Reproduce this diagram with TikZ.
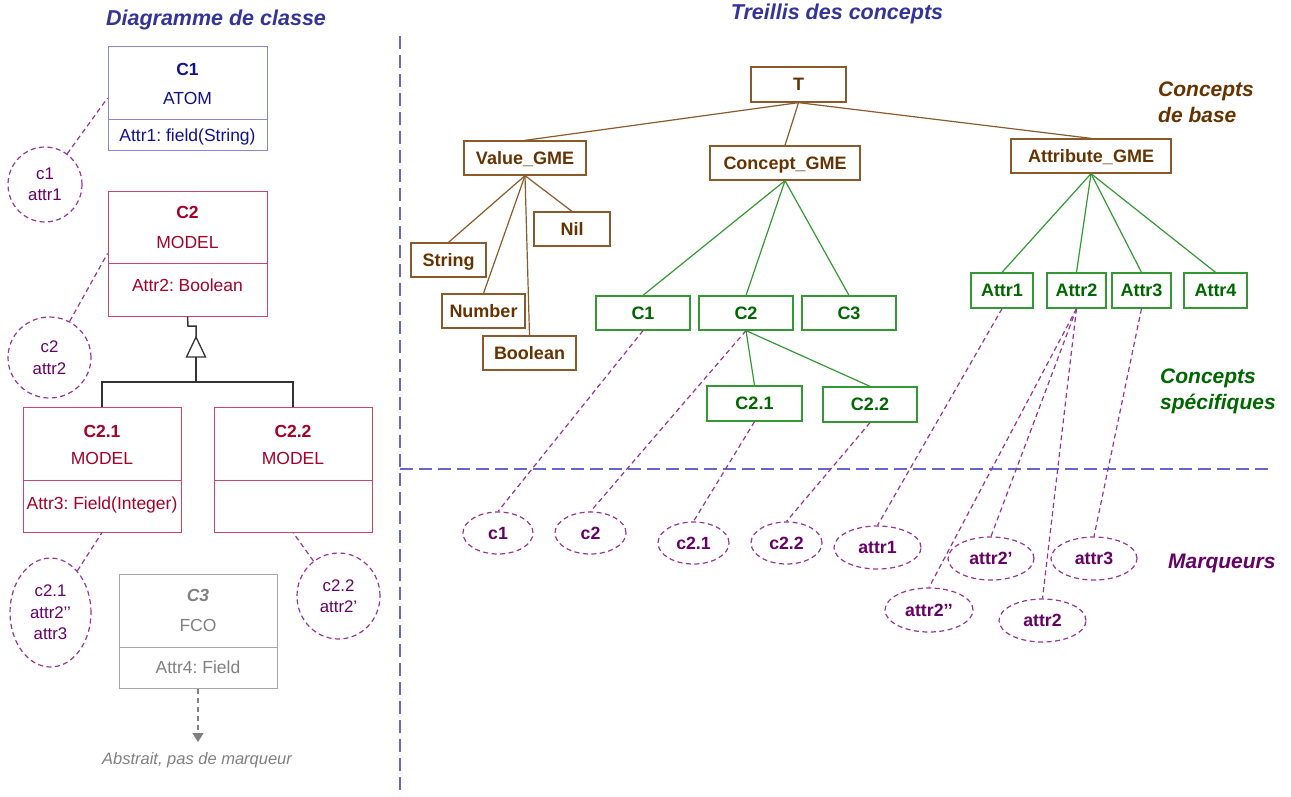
\documentclass[tikz,border=0pt]{standalone}
\usepackage{fontspec}
\setmainfont{Liberation Sans}
\usetikzlibrary{arrows.meta,calc,shapes.geometric}
\definecolor{hblue}{HTML}{333399}
\definecolor{sepblue}{HTML}{6666CC}
\definecolor{brtext}{HTML}{663300}
\definecolor{brline}{HTML}{8B5A2B}
\definecolor{grtext}{HTML}{006600}
\definecolor{grline}{HTML}{339933}
\definecolor{pur}{HTML}{660066}
\definecolor{purline}{HTML}{993399}
\definecolor{navytext}{HTML}{101090}
\definecolor{navyline}{HTML}{8888CC}
\definecolor{crimtext}{HTML}{A50028}
\definecolor{crimline}{HTML}{CC4466}
\definecolor{gtext}{HTML}{808080}
\definecolor{gline}{HTML}{A6A6A6}
\frenchspacing
\tikzset{
  heading/.style={font=\bfseries\itshape\fontsize{21.5}{24}\selectfont, inner sep=0pt},
  sidelbl/.style={font=\bfseries\itshape\fontsize{21}{26}\selectfont, inner sep=0pt, align=left, anchor=west},
  sepline/.style={draw=sepblue, line width=1.4pt, dash pattern=on 13pt off 6pt},
  lat/.style={draw, line width=1.3pt, font=\bfseries\fontsize{18}{20}\selectfont, minimum height=34pt, inner sep=0pt, text height=12.9pt, text depth=0pt},
  basebox/.style={lat, draw=brline, text=brtext},
  specbox/.style={lat, draw=grline, text=grtext},
  baseedge/.style={draw=brline, line width=1.2pt},
  specedge/.style={draw=grline, line width=1.2pt},
  markell/.style={ellipse, draw=purline, line width=1.2pt, dash pattern=on 5pt off 3.5pt, text=pur, inner sep=0pt, text height=12.6pt, text depth=0pt, font=\bfseries\fontsize{17.7}{20}\selectfont},
  lmark/.style={ellipse, draw=purline, line width=1.2pt, dash pattern=on 5pt off 3.5pt, text=pur, inner sep=0pt, align=center, font=\fontsize{16.8}{21.5}\selectfont},
  markedge/.style={draw=purline, line width=1.2pt, dash pattern=on 5pt off 3.5pt},
  classbox/.style={draw, line width=1pt, inner sep=0pt},
  ctext/.style={inner sep=0pt, font=\fontsize{17.5}{20}\selectfont, text height=12.5pt, text depth=0pt},
  ctitle/.style={ctext, font=\bfseries\fontsize{17.5}{20}\selectfont},
  gen/.style={draw=black!80, line width=1.5pt},
}
\begin{document}
\begin{tikzpicture}[x=1pt,y=-1pt]
\path[use as bounding box] (0,0) rectangle (1291,796);

% headings and separators
\node[heading, text=hblue] (hcd) at (216,20) {Diagramme de classe};
\node[heading, text=hblue] (htr) at (837,14) {Treillis des concepts};
\coordinate (vtop) at (400,36);
\coordinate (vbot) at (400,796);
\coordinate (hleft) at (400,469);
\coordinate (hright) at (1268,469);
\draw[sepline] (vtop) -- (vbot);
\draw[sepline] (hleft) -- (hright);

% ---------- class diagram ----------
% C1
\node[classbox, draw=navyline, minimum width=159pt, minimum height=104pt] (C1) at (187.5,98) {};
\draw[navyline, line width=1pt] (C1.west |- 0,119) -- (C1.east |- 0,119);
\node[ctitle, text=navytext] (C1n) at (187.5,69) {C1};
\node[ctext, text=navytext] (C1t) at (187.5,98) {ATOM};
\node[ctext, text=navytext] (C1a) at (187.5,135) {Attr1: field(String)};
% C2
\node[classbox, draw=crimline, minimum width=159pt, minimum height=125pt] (C2) at (187.5,253.5) {};
\draw[crimline, line width=1pt] (C2.west |- 0,263) -- (C2.east |- 0,263);
\node[ctitle, text=crimtext] (C2n) at (187.5,212) {C2};
\node[ctext, text=crimtext] (C2t) at (187.5,242) {MODEL};
\node[ctext, text=crimtext] (C2a) at (187.5,285) {Attr2: Boolean};
% C2.1
\node[classbox, draw=crimline, minimum width=158pt, minimum height=125pt] (C21) at (102,469.5) {};
\draw[crimline, line width=1pt] (C21.west |- 0,480) -- (C21.east |- 0,480);
\node[ctitle, text=crimtext] (C21n) at (102,431) {C2.1};
\node[ctext, text=crimtext] (C21t) at (102,458) {MODEL};
\node[ctext, text=crimtext] (C21a) at (102,503) {Attr3: Field(Integer)};
% C2.2
\node[classbox, draw=crimline, minimum width=158pt, minimum height=125pt] (C22) at (293,469.5) {};
\draw[crimline, line width=1pt] (C22.west |- 0,480) -- (C22.east |- 0,480);
\node[ctitle, text=crimtext] (C22n) at (293,431) {C2.2};
\node[ctext, text=crimtext] (C22t) at (293,458) {MODEL};
% C3
\node[classbox, draw=gline, minimum width=158pt, minimum height=114pt] (C3) at (198,631) {};
\draw[gline, line width=1pt] (C3.west |- 0,647) -- (C3.east |- 0,647);
\node[ctitle, text=gtext, font=\bfseries\itshape\fontsize{17.5}{20}\selectfont] (C3n) at (198,595) {C3};
\node[ctext, text=gtext] (C3t) at (198,625) {FCO};
\node[ctext, text=gtext] (C3a) at (198,667) {Attr4: Field};
\coordinate (absend) at (198,742);
\draw[draw=gtext, line width=1.2pt, dash pattern=on 5pt off 4pt, -{Triangle[width=11pt,length=9pt]}] (C3.south) -- (absend);
\node[inner sep=0pt, text=gtext, font=\itshape\fontsize{16.5}{20}\selectfont] (abs) at (197,760) {Abstrait, pas de marqueur};

% generalization
\coordinate (g1) at (188,326);
\coordinate (g2) at (196,326);
\coordinate (g3) at (196,337);
\coordinate (g4) at (196,357);
\coordinate (g5) at (196,382);
\draw[gen] (C2.south) -- (g1) -- (g2) -- (g3);
\draw[gen, line width=1.3pt, fill=white] (g3) -- (186.5,357) -- (205.5,357) -- cycle;
\draw[gen] (g4) -- (g5);
\draw[gen] (C21.north) |- (g5) -| (C22.north);

% left markers
\node[lmark, minimum width=74pt, minimum height=75pt] (lm1) at (45,184.5) {c1\\attr1};
\node[lmark, minimum width=83pt, minimum height=81pt] (lm2) at (49.5,357.5) {c2\\attr2};
\node[lmark, minimum width=81pt, minimum height=109pt] (lm21) at (50.5,612.5) {c2.1\\attr2’’\\attr3};
\node[lmark, minimum width=83pt, minimum height=86pt] (lm22) at (338.5,596) {c2.2\\attr2’};
\draw[markedge] (lm1) -- (C1.west);
\draw[markedge] (lm2) -- (C2.west);
\draw[markedge] (lm21) -- (C21.south);
\draw[markedge] (lm22) -- (C22.south);

% ---------- lattice ----------
\node[basebox, minimum width=95pt, minimum height=35pt] (T) at (798.5,84.5) {T};
\node[basebox, minimum width=122pt] (VG) at (525,158) {Value\_GME};
\node[basebox, minimum width=150pt] (CG) at (785,163) {Concept\_GME};
\node[basebox, minimum width=160pt] (AG) at (1091,156) {Attribute\_GME};
\node[basebox, minimum width=76pt] (Nil) at (572,229) {Nil};
\node[basebox, minimum width=75pt] (Str) at (448.5,260) {String};
\node[basebox, minimum width=83pt] (Num) at (483.5,311) {Number};
\node[basebox, minimum width=93pt] (Bool) at (529.5,353) {Boolean};

\draw[baseedge] (T.south) -- (VG.north);
\draw[baseedge] (T.south) -- (CG.north);
\draw[baseedge] (T.south) -- (AG.north);
\draw[baseedge] (VG.south) -- (Str.north);
\draw[baseedge] (VG.south) -- (Num.north);
\draw[baseedge] (VG.south) -- (Bool.north);
\draw[baseedge] (VG.south) -- (Nil.north);

\node[specbox, minimum width=94pt] (L1) at (643,313) {C1};
\node[specbox, minimum width=94pt] (L2) at (746,313) {C2};
\node[specbox, minimum width=94pt] (L3) at (849,313) {C3};
\node[specbox, minimum width=95pt, minimum height=35pt] (L21) at (754.5,403.5) {C2.1};
\node[specbox, minimum width=94pt, minimum height=35pt] (L22) at (870,404.5) {C2.2};
\node[specbox, minimum width=62pt, minimum height=35pt] (A1) at (1002,290.5) {Attr1};
\node[specbox, minimum width=59pt, minimum height=35pt] (A2) at (1076.5,290.5) {Attr2};
\node[specbox, minimum width=59pt, minimum height=35pt] (A3) at (1141.5,290.5) {Attr3};
\node[specbox, minimum width=63pt, minimum height=35pt] (A4) at (1215.5,290.5) {Attr4};

\draw[specedge] (CG.south) -- (L1.north);
\draw[specedge] (CG.south) -- (L2.north);
\draw[specedge] (CG.south) -- (L3.north);
\draw[specedge] (L2.south) -- (L21.north);
\draw[specedge] (L2.south) -- (L22.north);
\draw[specedge] (AG.south) -- (A1.north);
\draw[specedge] (AG.south) -- (A2.north);
\draw[specedge] (AG.south) -- (A3.north);
\draw[specedge] (AG.south) -- (A4.north);

% markers
\node[markell, minimum width=70pt, minimum height=42pt] (mc1) at (498,533) {c1};
\node[markell, minimum width=71pt, minimum height=42pt] (mc2) at (590.5,533) {c2};
\node[markell, minimum width=71pt, minimum height=42pt] (mc21) at (693.5,543) {c2.1};
\node[markell, minimum width=71pt, minimum height=42pt] (mc22) at (786.5,543) {c2.2};
\node[markell, minimum width=87pt, minimum height=43pt] (ma1) at (877.5,547.5) {attr1};
\node[markell, minimum width=86pt, minimum height=43pt] (ma2p) at (991,558.5) {attr2’};
\node[markell, minimum width=86pt, minimum height=43pt] (ma3) at (1094,558.5) {attr3};
\node[markell, minimum width=88pt, minimum height=44pt] (ma2pp) at (929,610) {attr2’’};
\node[markell, minimum width=87pt, minimum height=43pt] (ma2) at (1042.5,620.5) {attr2};

\draw[markedge] (L1.south) -- (mc1.north);
\draw[markedge] (L2.south) -- (mc2.north);
\draw[markedge] (L21.south) -- (mc21.north);
\draw[markedge] (L22.south) -- (mc22.north);
\draw[markedge] (A1.south) -- (ma1.north);
\draw[markedge] (A2.south) -- (ma2p.north);
\draw[markedge] (A2.south) -- (ma2pp.north);
\draw[markedge] (A2.south) -- (ma2.north);
\draw[markedge] (A3.south) -- (ma3.north);

% side labels
\node[sidelbl, text=brtext] (lbase) at (1158,102) {Concepts\\de base};
\node[sidelbl, text=grtext] (lspec) at (1160,391) {Concepts\\spécifiques};
\node[sidelbl, text=pur] (lmarq) at (1168,563) {Marqueurs};
\end{tikzpicture}
\end{document}
